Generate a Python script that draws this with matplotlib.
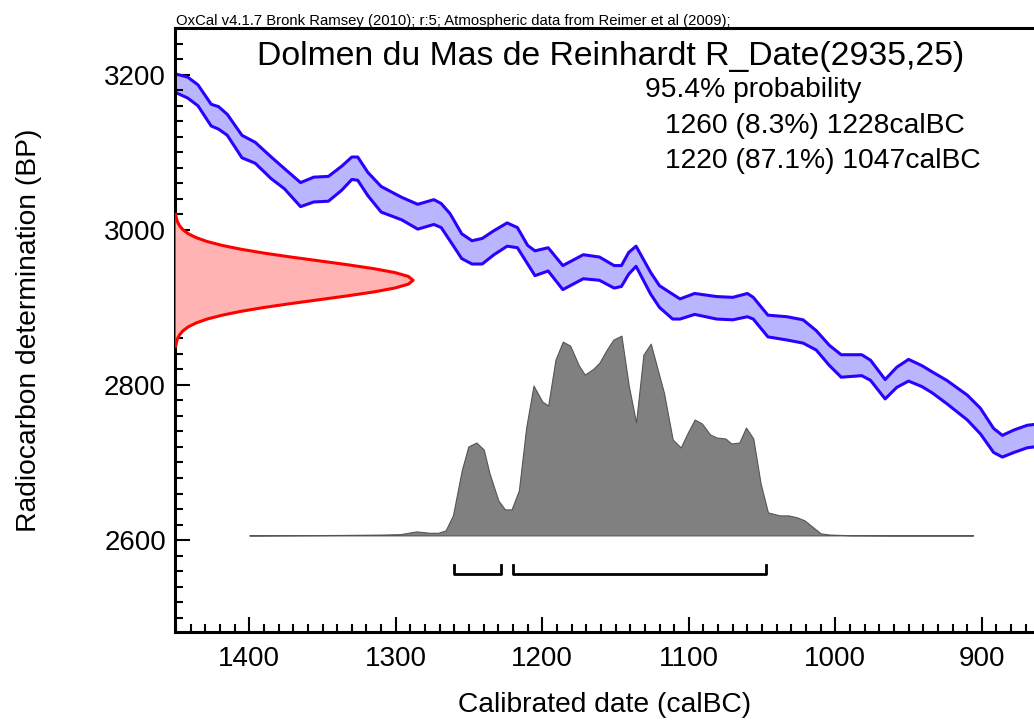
import numpy as np
import matplotlib.pyplot as plt
from matplotlib.ticker import MultipleLocator

plt.rcParams['font.family'] = ['Liberation Sans', 'DejaVu Sans']

# calibration curve (IntCal09 band): calBC, upper BP, lower BP
cal_years = [1450, 1442, 1435, 1426, 1421, 1415, 1405, 1396, 1385, 1376, 1365, 1356,
             1346, 1337, 1330, 1326, 1319, 1310, 1296, 1285, 1274, 1269, 1263, 1255,
             1248, 1241, 1233, 1224, 1217, 1210, 1205, 1196, 1186, 1179, 1172, 1161,
             1151, 1146, 1141, 1136, 1126, 1120, 1111, 1106, 1096, 1081, 1070, 1060,
             1056, 1046, 1033, 1022, 1013, 1004, 996, 982, 976, 966, 958, 950,
             941, 934, 924, 910, 901, 892, 886, 878, 869, 860]
cal_upper = [3201, 3197, 3187, 3162, 3159, 3149, 3122, 3113, 3094, 3079, 3061, 3068,
             3069, 3082, 3094, 3094, 3074, 3056, 3042, 3033, 3039, 3034, 3021, 2995,
             2986, 2989, 2999, 3009, 3003, 2980, 2973, 2977, 2954, 2961, 2968, 2965,
             2954, 2954, 2971, 2979, 2945, 2928, 2917, 2911, 2918, 2914, 2913, 2918,
             2913, 2890, 2888, 2884, 2870, 2851, 2839, 2839, 2832, 2807, 2823, 2833,
             2825, 2817, 2806, 2787, 2770, 2744, 2735, 2742, 2748, 2750]
cal_lower = [3177, 3170, 3160, 3134, 3130, 3122, 3093, 3086, 3066, 3053, 3030, 3036,
             3037, 3051, 3065, 3064, 3044, 3023, 3013, 3001, 3007, 3003, 2986, 2963,
             2956, 2956, 2968, 2979, 2977, 2956, 2941, 2947, 2923, 2930, 2937, 2935,
             2925, 2927, 2943, 2953, 2917, 2900, 2885, 2885, 2891, 2885, 2884, 2888,
             2885, 2862, 2858, 2854, 2845, 2825, 2810, 2812, 2806, 2782, 2797, 2805,
             2798, 2790, 2776, 2755, 2737, 2713, 2707, 2713, 2719, 2721]

# radiocarbon measurement R_Date(2935,25): BP and relative probability
date_bp = list(range(2850, 3021, 5))
date_prob = [0.003, 0.006, 0.011, 0.020, 0.034, 0.056, 0.089, 0.135, 0.198, 0.278,
             0.375, 0.487, 0.607, 0.726, 0.835, 0.923, 0.980, 1.000, 0.980, 0.923,
             0.835, 0.726, 0.607, 0.487, 0.375, 0.278, 0.198, 0.135, 0.089, 0.056,
             0.034, 0.020, 0.011, 0.006, 0.003]

# calibrated distribution: calBC and relative probability
post_years = [1400, 1340, 1310, 1297, 1286, 1277, 1271, 1266, 1261, 1255, 1250.5, 1245,
              1240, 1236, 1230, 1225.5, 1221, 1216, 1211, 1206, 1200, 1196, 1191, 1186,
              1181, 1175, 1171, 1165, 1161, 1156, 1151.5, 1146, 1141, 1136, 1131, 1126,
              1117, 1111, 1105.5, 1101, 1096, 1091, 1085.5, 1081, 1075, 1071, 1065.5, 1061,
              1056, 1051, 1046, 1038, 1032, 1026, 1021, 1010, 1004, 990, 960, 906]
post_prob = [0.0, 0.002, 0.004, 0.006, 0.02, 0.013, 0.013, 0.025, 0.10, 0.325, 0.445, 0.465,
             0.43, 0.31, 0.175, 0.13, 0.13, 0.225, 0.54, 0.75, 0.67, 0.65, 0.88, 0.97,
             0.95, 0.85, 0.805, 0.835, 0.865, 0.93, 0.98, 1.0, 0.75, 0.565, 0.905, 0.96,
             0.715, 0.48, 0.44, 0.51, 0.58, 0.56, 0.505, 0.49, 0.485, 0.46, 0.465, 0.54,
             0.485, 0.26, 0.115, 0.10, 0.10, 0.09, 0.075, 0.01, 0.004, 0.001, 0.0, 0.0]

# 95.4% ranges
hpd_from = [1260, 1220]
hpd_to = [1228, 1047]
hpd_pct = [8.3, 87.1]

x_left, x_right = 1450.7, 864.4
y_bottom, y_top = 2481, 3260

fig = plt.figure(figsize=(10.34, 7.23), dpi=100)
ax = fig.add_axes([175 / 1034, 90.7 / 723, 1 - 175 / 1034, 604 / 723])

# calibration band
ax.fill_between(cal_years, cal_lower, cal_upper, color='#b9b5ff', lw=0, zorder=1)
ax.plot(cal_years, cal_upper, color='#2b00ff', lw=2.2, solid_joinstyle='round', zorder=2)
ax.plot(cal_years, cal_lower, color='#2b00ff', lw=2.2, solid_joinstyle='round', zorder=2)

# measured date on the y axis
red_width = 162.5
red_x = x_left - red_width * np.array(date_prob)
ax.fill_betweenx(date_bp, x_left, red_x, color='#ffb3b3', lw=0, zorder=3)
ax.plot(red_x, date_bp, color='#ff0000', lw=2.2, solid_joinstyle='round', zorder=4)

# calibrated distribution
base = 2606
gray_height = 257.6
ax.fill_between(post_years, base, base + gray_height * np.array(post_prob),
                facecolor='#808080', edgecolor='#555555', lw=0.8, zorder=3)

# range brackets
for a, b in zip(hpd_from, hpd_to):
    ax.plot([a, a, b, b], [2568, 2556, 2556, 2568], color='black', lw=2, zorder=4)

ax.set_xlim(x_left, x_right)
ax.set_ylim(y_bottom, y_top)
ax.xaxis.set_major_locator(MultipleLocator(100))
ax.xaxis.set_minor_locator(MultipleLocator(10))
ax.yaxis.set_major_locator(MultipleLocator(200))
ax.yaxis.set_minor_locator(MultipleLocator(20))
ax.tick_params(which='both', direction='in', width=1.5, labelsize=20)
ax.tick_params(which='major', length=11, pad=10)
ax.tick_params(axis='y', which='major', pad=6.5)
ax.tick_params(which='minor', length=5.5)
ax.tick_params(axis='x', which='both', top=False)
ax.tick_params(axis='y', which='both', right=False)
for s in ['left', 'bottom', 'top']:
    ax.spines[s].set_linewidth(2.2)
ax.spines['right'].set_visible(False)

ax.set_xlabel('Calibrated date (calBC)', fontsize=20.3)
ax.set_ylabel('Radiocarbon determination (BP)', fontsize=20.3)
ax.xaxis.set_label_coords(0.5, (632.3 - 692) / 604)
ax.yaxis.set_label_coords((42 - 175) / 859, 0.5)

fig.text(176 / 1034, 1 - 25 / 723, 'OxCal v4.1.7 Bronk Ramsey (2010); r:5; Atmospheric data from Reimer et al (2009);',
         fontsize=10.7, ha='left', va='baseline')
fig.text(611 / 1034, 1 - 65 / 723, 'Dolmen du Mas de Reinhardt R_Date(2935,25)',
         fontsize=24.3, ha='center', va='baseline')
fig.text(645 / 1034, 1 - 96.7 / 723, '95.4% probability', fontsize=20.3, ha='left', va='baseline')
for i, (a, b, p) in enumerate(zip(hpd_from, hpd_to, hpd_pct)):
    fig.text(665 / 1034, 1 - (133.3 + 35 * i) / 723, f'{a} ({p}%) {b}calBC',
             fontsize=20.3, ha='left', va='baseline')

plt.savefig('out.png', dpi=100)
